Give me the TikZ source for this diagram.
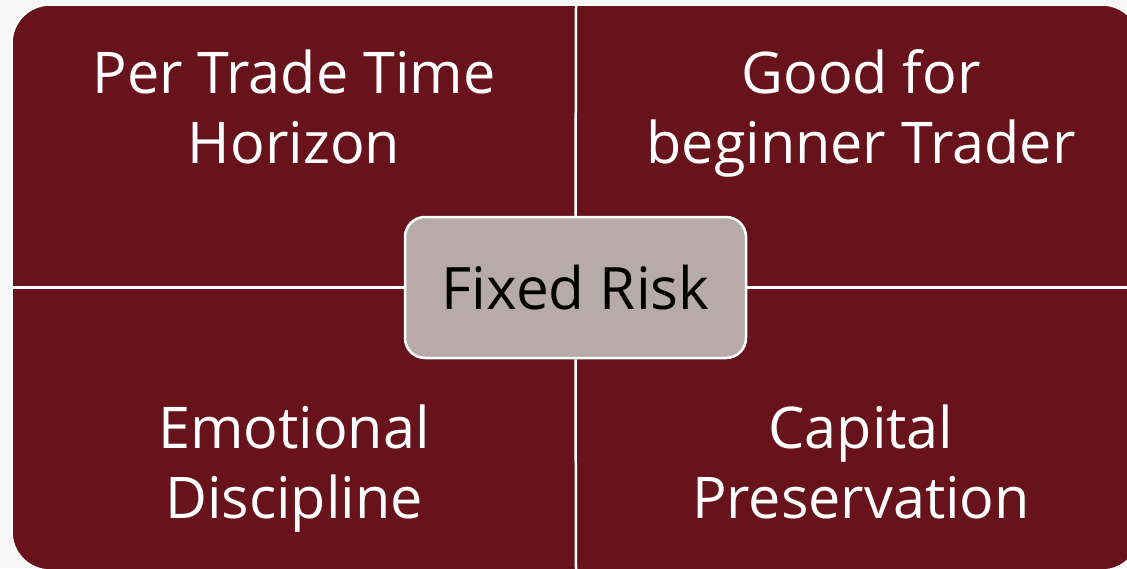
\documentclass[tikz,border=0pt]{standalone}
\usepackage{fontspec}
\setmainfont{Open Sans}
\usetikzlibrary{positioning}

\definecolor{wine}{HTML}{68131C}
\definecolor{greige}{HTML}{B7AAAA}
\definecolor{paper}{HTML}{F8F8F8}

\tikzset{
	quadtext/.style={text=white,align=center,font=\fontsize{57.5}{70}\selectfont,inner sep=0pt},
	hub/.style={draw=white,line width=2.5pt,fill=greige,rounded corners=20pt,
		minimum width=341pt,minimum height=141pt,font=\fontsize{58.5}{70}\selectfont,text=black},
	divider/.style={draw=white,line width=2.5pt}
}

\begin{document}
\begin{tikzpicture}[x=1pt,y=-1pt]
	\fill[paper] (0,0) rectangle (1127,568);
	\useasboundingbox (0,0) rectangle (1127,568);
	\clip (0,0) rectangle (1127,568);
	% outer frame
	\filldraw[fill=wine,draw=white,line width=1.5pt,rounded corners=38pt] (12,5) rectangle (1140,570);
	\coordinate (top) at (576,5);
	\coordinate (bottom) at (576,570);
	\coordinate (left) at (12,287.5);
	\coordinate (right) at (1140,287.5);
	\node(risk) [hub] at (575.5,287.5) {Fixed Risk};
	\path[divider]
		(risk.north) edge (top)
		(risk.south) edge (bottom)
		(risk.west) edge (left)
		(risk.east) edge (right);
	% base anchor sits on the last line
	\node(horizon) [quadtext,anchor=base] at (294,163) {Per Trade Time\\Horizon};
	\node(beginner) [quadtext,anchor=base] at (861,163) {Good for\\beginner Trader};
	\node(discipline) [quadtext,anchor=base] at (294,518) {Emotional\\Discipline};
	\node(capital) [quadtext,anchor=base] at (861,518) {Capital\\Preservation};
\end{tikzpicture}
\end{document}
